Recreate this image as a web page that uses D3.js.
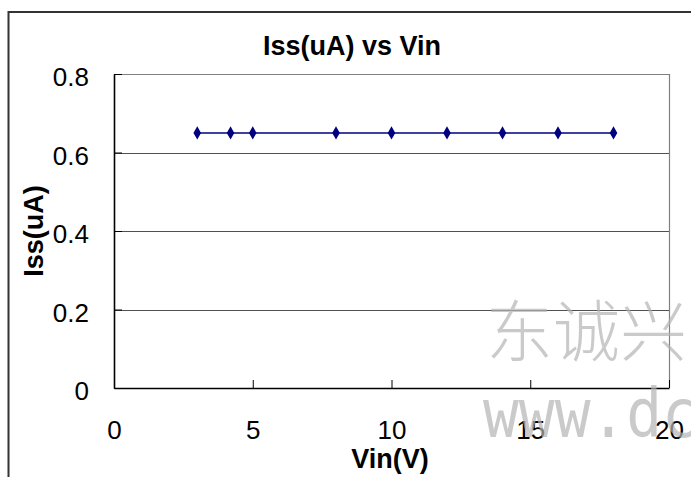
<!DOCTYPE html>
<html>
<head>
<meta charset="utf-8">
<script src="https://cdn.jsdelivr.net/npm/d3@7"></script>
<style>
  html, body { margin: 0; padding: 0; background: #fff; }
  svg { display: block; }
  text { font-family: "Liberation Sans", Arial, sans-serif; }
</style>
</head>
<body>
<svg id="chart" width="691" height="477"></svg>
<script>
// Supply current Iss (uA) measured at each input voltage Vin (V)
const vin = [3, 4.2, 5, 8, 10, 12, 14, 16, 18];
const iss = [0.65, 0.65, 0.65, 0.65, 0.65, 0.65, 0.65, 0.65, 0.65];
const xTicks = [0, 5, 10, 15, 20];
const yTicks = [0, 0.2, 0.4, 0.6, 0.8];
const titleText = "Iss(uA) vs Vin";
const xTitle = "Vin(V)";
const yTitle = "Iss(uA)";

const svg = d3.select("#chart");
const W = 691, H = 477;
const plot = { left: 114, right: 669, top: 74, bottom: 388 };

const x = d3.scaleLinear().domain([0, 20]).range([plot.left, plot.right]);
const y = d3.scaleLinear().domain([0, 0.8]).range([plot.bottom, plot.top]);

// chart frame (only its left and top edges fall inside the view)
svg.append("path")
  .attr("d", `M8.5,${H + 5} V12 H${W + 5}`)
  .attr("fill", "none")
  .attr("stroke", "#333")
  .attr("stroke-width", 2);

// horizontal gridlines
svg.append("g")
  .selectAll("line")
  .data(yTicks.filter(d => d > 0))
  .join("line")
  .attr("x1", plot.left).attr("x2", plot.right)
  .attr("y1", d => Math.round(y(d)) + 0.5).attr("y2", d => Math.round(y(d)) + 0.5)
  .attr("stroke", d => d === 0.8 ? "#808080" : "#505050")
  .attr("stroke-width", 1.2);

// right edge of plot area
svg.append("line")
  .attr("x1", plot.right + 0.5).attr("x2", plot.right + 0.5)
  .attr("y1", plot.top).attr("y2", plot.bottom)
  .attr("stroke", "#808080").attr("stroke-width", 1.2);

// x axis with inward ticks
const xAxis = d3.axisBottom(x)
  .tickValues(xTicks)
  .tickFormat(d3.format("d"))
  .tickSizeInner(-8)
  .tickSizeOuter(0)
  .tickPadding(33);
const gx = svg.append("g")
  .attr("transform", `translate(0,${plot.bottom})`)
  .call(xAxis);
gx.select(".domain").attr("stroke", "#000").attr("stroke-width", 1.6);
gx.selectAll(".tick line").attr("stroke", "#000").attr("stroke-width", 1);
gx.selectAll(".tick text")
  .attr("fill", "#000")
  .style("font-size", "26px")
  .style("font-family", "'Liberation Sans', Arial, sans-serif");

// y axis with inward ticks
const yAxis = d3.axisLeft(y)
  .tickValues(yTicks)
  .tickFormat(d => d === 0 ? "0" : d3.format(".1f")(d))
  .tickSizeInner(-8)
  .tickSizeOuter(0)
  .tickPadding(25);
const gy = svg.append("g")
  .attr("transform", `translate(${plot.left},0)`)
  .call(yAxis);
gy.select(".domain").attr("stroke", "#000").attr("stroke-width", 1.6);
gy.selectAll(".tick line").attr("stroke", "#000").attr("stroke-width", 1);
gy.selectAll(".tick text")
  .attr("fill", "#000")
  .attr("dy", "0.45em")
  .style("font-size", "26px")
  .style("font-family", "'Liberation Sans', Arial, sans-serif");

// data series
const line = d3.line().x((d, i) => x(vin[i])).y(d => y(d));
svg.append("path")
  .datum(iss)
  .attr("d", line)
  .attr("fill", "none")
  .attr("stroke", "#000080")
  .attr("stroke-width", 1.5);

const diamond = d3.symbol().type(d3.symbolDiamond).size(50);
svg.append("g")
  .selectAll("path")
  .data(iss)
  .join("path")
  .attr("d", diamond)
  .attr("transform", (d, i) => `translate(${x(vin[i])},${y(d)})`)
  .attr("fill", "#000080");

// titles
svg.append("text")
  .attr("x", 352).attr("y", 55)
  .attr("text-anchor", "middle")
  .style("font-size", "27px").style("font-weight", "bold")
  .text(titleText);

svg.append("text")
  .attr("x", 390).attr("y", 468)
  .attr("text-anchor", "middle")
  .style("font-size", "27px").style("font-weight", "bold")
  .text(xTitle);

svg.append("text")
  .attr("transform", `translate(43,${(plot.top + plot.bottom) / 2}) rotate(-90)`)
  .attr("text-anchor", "middle")
  .style("font-size", "27px").style("font-weight", "bold")
  .text(yTitle);

// watermark
const wm = svg.append("g").attr("fill", "#b4b4b4").attr("fill-opacity", 0.7);
wm.append("text")
  .attr("x", 486).attr("y", 356)
  .style("font-family", "'Noto Sans CJK SC', sans-serif")
  .style("font-size", "67px")
  .style("font-weight", 300)
  .text("东诚兴");
wm.append("text")
  .attr("transform", "translate(483,437) scale(0.875,1)")
  .style("font-family", "'DejaVu Sans Mono', 'Liberation Mono', monospace")
  .style("font-size", "68px")
  .text("www.dcx");
</script>
</body>
</html>
